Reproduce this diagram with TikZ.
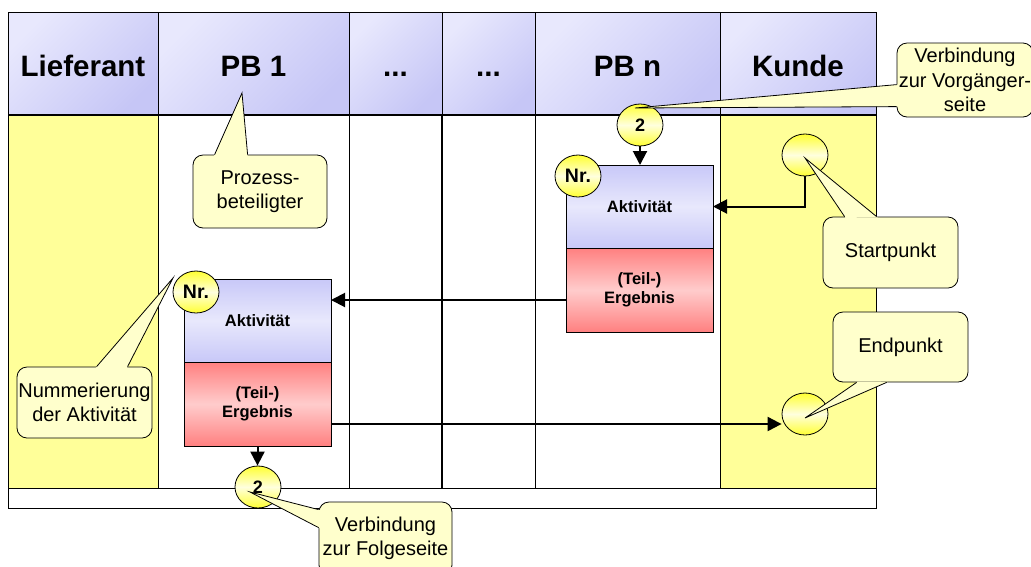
\documentclass[tikz,border=0pt]{standalone}
\usepackage{fontspec}
\setmainfont{Liberation Sans}
\usepackage{tikz}
\usetikzlibrary{arrows.meta}
\usetikzlibrary{positioning}
\usetikzlibrary{shapes.geometric}
\usetikzlibrary{calc}

\definecolor{headlight}{HTML}{E8E8FD}
\definecolor{headdark}{HTML}{C6C6F6}
\definecolor{lanefill}{HTML}{FFFF99}
\definecolor{notefill}{HTML}{FFFFCC}
\definecolor{actdark}{HTML}{C8C8F8}
\definecolor{actlight}{HTML}{E8E8FC}
\definecolor{resdark}{HTML}{FF8080}
\definecolor{reslight}{HTML}{FFCCCC}
\definecolor{dotyellow}{HTML}{FFFF33}
\definecolor{dotlight}{HTML}{FFFFDD}

% pointer of a callout: two base points on the border, then the tip
\newcommand{\notepointer}[3]{%
    \fill[notefill] ($(#1)!-1.5pt!(#3)$) -- (#3) -- ($(#2)!-1.5pt!(#3)$) -- cycle;
    \draw (#1) -- (#3) -- (#2);}

\begin{document}
\begin{tikzpicture}[x=1pt, y=-1pt, line width=0.8pt,
        lanehead/.style={draw, top color=headlight, bottom color=headdark, shading angle=45,
            minimum height=103pt, inner sep=0pt, text height=25pt, text depth=0pt,
            font=\fontsize{29.5}{34}\selectfont\bfseries},
        actbox/.style={draw, minimum width=147pt, minimum height=83pt, outer sep=0pt,
            top color=actdark, bottom color=actdark, middle color=actlight,
            align=center, font=\fontsize{16.5}{19.5}\selectfont\bfseries},
        resbox/.style={actbox, minimum height=84pt,
            top color=resdark, bottom color=resdark, middle color=reslight},
        marker/.style={ellipse, draw, minimum width=46pt, minimum height=42pt, inner sep=0pt,
            top color=dotyellow, bottom color=dotyellow, middle color=dotlight,
            font=\fontsize{18}{20}\selectfont\bfseries},
        note/.style={draw, fill=notefill, rounded corners=10pt, inner sep=1pt,
            align=center, font=\fontsize{20}{24.5}\selectfont},
        flow/.style={line width=2pt, -{Triangle[width=14pt,length=14pt]}}]
    \useasboundingbox (0,0) rectangle (1031,566);

    % lanes
    \node[lanehead, minimum width=150pt] (lief) at (83,63.5) {Lieferant};
    \node[lanehead, minimum width=191pt] (pb1) at (253.5,63.5) {PB 1};
    \node[lanehead, minimum width=93pt] (dotsa) at (395.5,63.5) {...};
    \node[lanehead, minimum width=93pt] (dotsb) at (488.5,63.5) {...};
    \node[lanehead, minimum width=185pt] (pbn) at (627.5,63.5) {PB n};
    \node[lanehead, minimum width=156pt] (kunde) at (798,63.5) {Kunde};

    \fill[lanefill] (8,115) rectangle (158,488);
    \fill[lanefill] (720,115) rectangle (876,488);
    \draw (8,115) rectangle (876,508);
    \draw (8,488) -- (876,488);
    \foreach \x in {158,349,535,720}
        \draw (\x,115) -- (\x,488);
    \draw[line width=1.6pt] (442,115) -- (442,488);
    \draw[line width=1.4pt] (8,115) -- (876,115);

    % activities
    \node[actbox] (act1) at (257.5,320.5) {Aktivität};
    \node[resbox, below=0pt of act1] (res1) {(Teil-)\\Ergebnis};
    \node[actbox] (act2) at (639.5,206.5) {Aktivität};
    \node[resbox, below=0pt of act2] (res2) {(Teil-)\\Ergebnis};

    \node[marker, font=\fontsize{19.5}{22}\selectfont\bfseries] (nr1) at (196,292) {Nr.};
    \node[marker, font=\fontsize{19.5}{22}\selectfont\bfseries] (nr2) at (578,176) {Nr.};
    \node[marker] (conta) at (640,125) {2};
    \node[marker] (contb) at (258,487) {2};
    \node[marker] (startpt) at (805,155) {};
    \node[marker] (endpt) at (805,414) {};

    % flow
    \draw[flow] (conta.south) -- (conta.south |- act2.north);
    \draw[flow] (startpt.south) |- (act2.east);
    \coordinate (back) at ([yshift=-10pt]res2.west);
    \draw[flow] (back) -- (back -| act1.east);
    \draw[flow] (res1.south) -- (res1.south |- contb.north);
    \coordinate (out) at ([yshift=-20pt]res1.east);
    \draw[flow] (out) -- (out -| endpt.west);

    % callouts
    \node[note, minimum width=134pt, minimum height=73pt] (proz) at (260,191.5) {Prozess-\\beteiligter};
    \notepointer{[xshift=22pt]proz.north west}{[xshift=55pt]proz.north west}{[xshift=-11.5pt,yshift=-29.5pt]pb1.center}

    \node[note, minimum width=135pt, minimum height=71pt] (numm) at (84.5,402.5) {Nummerierung\\der Aktivität};
    \notepointer{[xshift=80pt]numm.north west}{[xshift=111pt]numm.north west}{[xshift=-23pt,yshift=14pt]nr1.center}

    \node[note, minimum width=135pt, minimum height=71pt] (start) at (890.5,252.5) {Startpunkt};
    \notepointer{[xshift=22pt]start.north west}{[xshift=54pt]start.north west}{[yshift=-3pt]startpt.center}

    \node[note, minimum width=135pt, minimum height=70pt] (ende) at (900.5,347) {Endpunkt};
    \notepointer{[xshift=24pt]ende.south west}{[xshift=54pt]ende.south west}{[yshift=-4pt]endpt.center}

    \node[note, minimum width=133pt, minimum height=73pt] (folge) at (385.5,538.5) {Verbindung\\zur Folgeseite};
    \notepointer{[yshift=-8pt]folge.north west}{[yshift=-26pt]folge.north west}{[xshift=-8pt,yshift=-5pt]contb.center}

    \node[note, minimum width=136pt, minimum height=74pt] (vorg) at (965,80) {Verbindung\\zur Vorgänger-\\seite};
    \notepointer{[yshift=-42pt]vorg.north west}{[yshift=-64pt]vorg.north west}{[xshift=-5pt,yshift=17pt]conta.center}
\end{tikzpicture}
\end{document}
